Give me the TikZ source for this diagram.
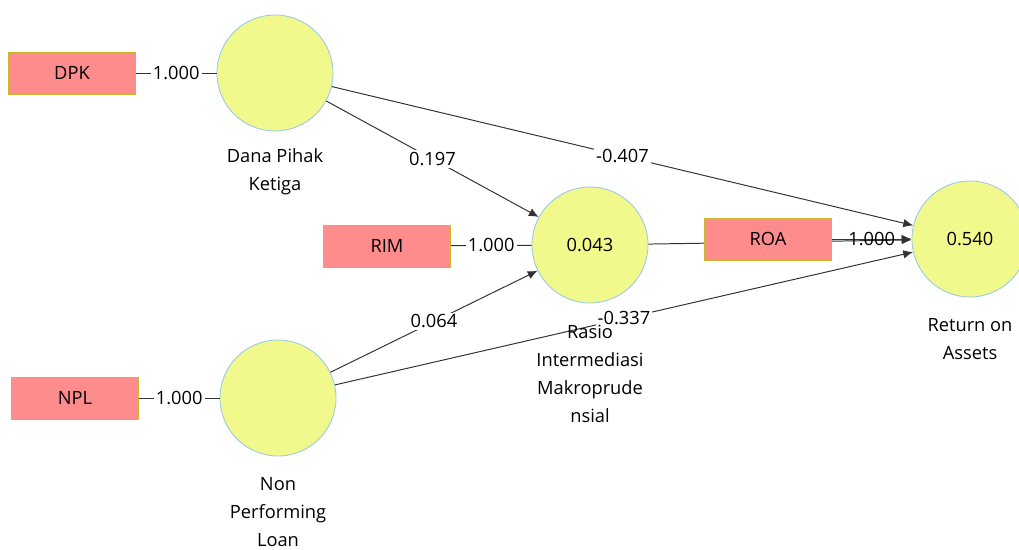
\documentclass[tikz,border=0pt]{standalone}
\usepackage{fontspec}
\setmainfont{Open Sans}
\usetikzlibrary{arrows.meta}
\definecolor{lvfill}{RGB}{242,249,140}
\definecolor{lvline}{RGB}{150,200,232}
\definecolor{mvfill}{RGB}{255,140,140}
\definecolor{mvline}{RGB}{205,185,40}
\definecolor{pathcol}{RGB}{50,50,50}

\begin{document}
\begin{tikzpicture}[x=0.025cm, y=-0.025cm,
  font=\fontsize{13}{20}\selectfont,
  >={Latex[length=7pt,width=6pt]},
  latent/.style={shape=circle, draw=lvline, fill=lvfill, line width=0.6pt, minimum size=2.9cm, inner sep=0pt},
  indicator/.style={shape=rectangle, draw=mvline, fill=mvfill, line width=0.6pt, minimum width=3.175cm, minimum height=1.05cm},
  caption/.style={align=center, inner sep=0pt},
  coef/.style={fill=white, inner sep=1.5pt},
  every edge/.style={draw=pathcol, line width=0.7pt}]
\useasboundingbox (0,0) rectangle (1019,550);

\node[latent](DPH) at (275,73) {};
\node[latent](RIMk) at (590,245) {0.043};
\node[latent](ROAk) at (970,239) {0.540};
\node[latent](NPLk) at (278,398) {};

\node[indicator](DPK) at (72,73) {DPK};
\node[indicator](RIM) at (387,246) {RIM};
\node[indicator](NPL) at (75,398) {NPL};

\path[-] (DPK) edge node[coef] {1.000} (DPH);
\path[-] (RIM) edge node[coef] {1.000} (RIMk);
\path[-] (NPL) edge node[coef] {1.000} (NPLk);

\path[->] (DPH) edge node[coef] {0.197} (RIMk);
\path[->] (DPH) edge node[coef] {-0.407} (ROAk);
\path[->] (NPLk) edge node[coef] {0.064} (RIMk);
\path[->] (NPLk) edge node[coef] {-0.337} (ROAk);
\path[->] (RIMk) edge (ROAk);

\node[indicator](ROA) at (768,239) {ROA};
\path[->] (ROA) edge node {1.000} (ROAk);

\node[caption](tDPH) at (275,172) {Dana Pihak\\Ketiga};
\node[caption](tRIMk) at (590,374) {Rasio\\Intermediasi\\Makroprude\\nsial};
\node[caption](tROAk) at (970,339) {Return on\\Assets};
\node[caption](tNPLk) at (278,512) {Non\\Performing\\Loan};
\end{tikzpicture}
\end{document}
